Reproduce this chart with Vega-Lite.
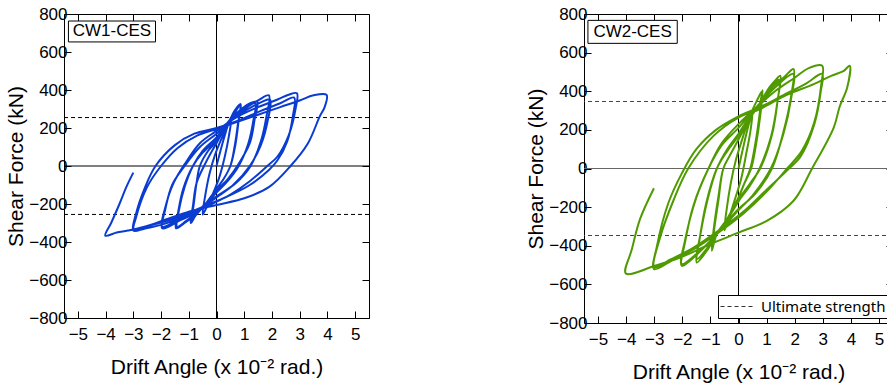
{
  "$schema": "https://vega.github.io/schema/vega-lite/v6.json",
  "padding": {"left": 5, "top": 4, "right": 0, "bottom": 0},
  "spacing": 155,
  "config": {
    "view": {"stroke": "#000", "strokeWidth": 1},
    "line": {"interpolate": "catmull-rom"},
    "axis": {
      "domain": false, "grid": false, "tickColor": "#000", "tickSize": -7, "tickWidth": 1,
      "labelColor": "#000", "titleColor": "#000", "labelFont": "Liberation Sans", "labelFontSize": 17,
      "titleFont": "Liberation Sans", "titleFontSize": 21, "titleFontWeight": "normal",
      "labelFlush": false, "labelOverlap": false
    }
  },
  "datasets": {
    "cw1": [
      {"i":1,"d":0,"f":0},{"i":2,"d":0.2,"f":110},{"i":3,"d":0.4,"f":210},{"i":4,"d":0.55,"f":265},
      {"i":5,"d":0.45,"f":160},{"i":6,"d":0.3,"f":50},{"i":7,"d":0.1,"f":-60},{"i":8,"d":-0.2,"f":-170},{"i":9,"d":-0.4,"f":-230},{"i":10,"d":-0.5,"f":-255},
      {"i":11,"d":-0.4,"f":-150},{"i":12,"d":-0.25,"f":-40},{"i":13,"d":-0.05,"f":60},{"i":14,"d":0.2,"f":150},{"i":15,"d":0.45,"f":230},{"i":16,"d":0.65,"f":290},{"i":17,"d":0.87,"f":326},
      {"i":18,"d":0.8,"f":240},{"i":19,"d":0.68,"f":110},{"i":20,"d":0.5,"f":0},{"i":21,"d":0.25,"f":-70},{"i":22,"d":0,"f":-120},{"i":23,"d":-0.4,"f":-200},{"i":24,"d":-0.75,"f":-260},{"i":25,"d":-0.93,"f":-300},
      {"i":26,"d":-0.85,"f":-210},{"i":27,"d":-0.72,"f":-90},{"i":28,"d":-0.45,"f":0},{"i":29,"d":-0.2,"f":70},{"i":30,"d":0,"f":120},{"i":31,"d":0.3,"f":200},{"i":32,"d":0.6,"f":265},{"i":33,"d":0.85,"f":320},
      {"i":34,"d":0.78,"f":230},{"i":35,"d":0.65,"f":100},{"i":36,"d":0.5,"f":0},{"i":37,"d":0.25,"f":-70},{"i":38,"d":0,"f":-120},{"i":39,"d":-0.4,"f":-200},{"i":40,"d":-0.75,"f":-255},{"i":41,"d":-0.9,"f":-290},
      {"i":42,"d":-0.82,"f":-200},{"i":43,"d":-0.72,"f":-90},{"i":44,"d":-0.6,"f":0},{"i":45,"d":-0.3,"f":80},{"i":46,"d":0,"f":130},{"i":47,"d":0.3,"f":200},{"i":48,"d":0.6,"f":260},{"i":49,"d":0.9,"f":300},{"i":50,"d":1.2,"f":330},{"i":51,"d":1.47,"f":338},
      {"i":52,"d":1.38,"f":250},{"i":53,"d":1.2,"f":120},{"i":54,"d":0.75,"f":0},{"i":55,"d":0.4,"f":-70},{"i":56,"d":0,"f":-130},{"i":57,"d":-0.4,"f":-200},{"i":58,"d":-0.75,"f":-255},{"i":59,"d":-1.1,"f":-295},{"i":60,"d":-1.46,"f":-328},
      {"i":61,"d":-1.38,"f":-240},{"i":62,"d":-1.2,"f":-120},{"i":63,"d":-0.85,"f":0},{"i":64,"d":-0.5,"f":70},{"i":65,"d":0,"f":140},{"i":66,"d":0.3,"f":200},{"i":67,"d":0.6,"f":255},{"i":68,"d":1.0,"f":300},{"i":69,"d":1.4,"f":330},
      {"i":70,"d":1.33,"f":240},{"i":71,"d":1.15,"f":120},{"i":72,"d":0.8,"f":0},{"i":73,"d":0.4,"f":-80},{"i":74,"d":0,"f":-140},{"i":75,"d":-0.4,"f":-200},{"i":76,"d":-0.75,"f":-250},{"i":77,"d":-1.1,"f":-290},{"i":78,"d":-1.42,"f":-320},
      {"i":79,"d":-1.35,"f":-230},{"i":80,"d":-1.15,"f":-110},{"i":81,"d":-0.85,"f":0},{"i":82,"d":-0.5,"f":80},{"i":83,"d":0,"f":150},{"i":84,"d":0.3,"f":210},{"i":85,"d":0.6,"f":260},{"i":86,"d":1.1,"f":310},{"i":87,"d":1.5,"f":345},{"i":88,"d":1.89,"f":372},
      {"i":89,"d":1.8,"f":260},{"i":90,"d":1.6,"f":130},{"i":91,"d":1.23,"f":0},{"i":92,"d":0.7,"f":-90},{"i":93,"d":0,"f":-160},{"i":94,"d":-0.4,"f":-200},{"i":95,"d":-0.75,"f":-245},{"i":96,"d":-1.3,"f":-285},{"i":97,"d":-1.96,"f":-328},
      {"i":98,"d":-1.85,"f":-230},{"i":99,"d":-1.6,"f":-100},{"i":100,"d":-1.15,"f":0},{"i":101,"d":-0.6,"f":100},{"i":102,"d":0,"f":170},{"i":103,"d":0.6,"f":250},{"i":104,"d":1.2,"f":305},{"i":105,"d":1.6,"f":335},{"i":106,"d":1.93,"f":350},
      {"i":107,"d":1.85,"f":240},{"i":108,"d":1.6,"f":110},{"i":109,"d":1.2,"f":0},{"i":110,"d":0.6,"f":-100},{"i":111,"d":0,"f":-165},{"i":112,"d":-0.75,"f":-240},{"i":113,"d":-1.4,"f":-285},{"i":114,"d":-1.96,"f":-320},
      {"i":115,"d":-1.85,"f":-220},{"i":116,"d":-1.55,"f":-90},{"i":117,"d":-1.1,"f":20},{"i":118,"d":-0.6,"f":120},{"i":119,"d":0,"f":185},{"i":120,"d":0.7,"f":255},{"i":121,"d":1.5,"f":310},{"i":122,"d":2.2,"f":350},{"i":123,"d":2.6,"f":375},{"i":124,"d":2.9,"f":383},
      {"i":125,"d":2.85,"f":300},{"i":126,"d":2.6,"f":160},{"i":127,"d":2.2,"f":50},{"i":128,"d":1.83,"f":0},{"i":129,"d":1.2,"f":-80},{"i":130,"d":0.5,"f":-150},{"i":131,"d":-0.3,"f":-210},{"i":132,"d":-1.2,"f":-270},{"i":133,"d":-2.0,"f":-310},{"i":134,"d":-2.6,"f":-330},{"i":135,"d":-3.0,"f":-340},
      {"i":136,"d":-2.9,"f":-250},{"i":137,"d":-2.6,"f":-120},{"i":138,"d":-2.2,"f":0},{"i":139,"d":-1.5,"f":110},{"i":140,"d":-0.8,"f":170},{"i":141,"d":0,"f":200},{"i":142,"d":0.8,"f":240},{"i":143,"d":1.6,"f":290},{"i":144,"d":2.3,"f":330},{"i":145,"d":2.8,"f":360},
      {"i":146,"d":2.75,"f":260},{"i":147,"d":2.55,"f":130},{"i":148,"d":2.2,"f":30},{"i":149,"d":1.9,"f":-20},{"i":150,"d":1.2,"f":-100},{"i":151,"d":0.4,"f":-160},{"i":152,"d":-0.5,"f":-215},{"i":153,"d":-1.4,"f":-270},{"i":154,"d":-2.3,"f":-310},{"i":155,"d":-2.98,"f":-337},
      {"i":156,"d":-2.9,"f":-270},{"i":157,"d":-2.5,"f":-110},{"i":158,"d":-2.0,"f":0},{"i":159,"d":-1.4,"f":95},{"i":160,"d":-0.7,"f":160},{"i":161,"d":0,"f":195},{"i":162,"d":0.7,"f":230},{"i":163,"d":1.5,"f":270},{"i":164,"d":2.3,"f":310},{"i":165,"d":3.0,"f":345},{"i":166,"d":3.5,"f":372},{"i":167,"d":3.97,"f":374},
      {"i":168,"d":3.9,"f":310},{"i":169,"d":3.72,"f":260},{"i":170,"d":3.3,"f":120},{"i":171,"d":2.67,"f":0},{"i":172,"d":1.9,"f":-110},{"i":173,"d":1.0,"f":-170},{"i":174,"d":0,"f":-205},{"i":175,"d":-1.0,"f":-240},{"i":176,"d":-1.8,"f":-280},{"i":177,"d":-2.6,"f":-320},{"i":178,"d":-3.2,"f":-340},{"i":179,"d":-3.6,"f":-350},{"i":180,"d":-4.01,"f":-367},
      {"i":181,"d":-3.8,"f":-300},{"i":182,"d":-3.5,"f":-200},{"i":183,"d":-3.25,"f":-110},{"i":184,"d":-3.0,"f":-35}
    ],
    "cw2": [
      {"i":1,"d":0,"f":0},{"i":2,"d":0.2,"f":130},{"i":3,"d":0.35,"f":220},{"i":4,"d":0.5,"f":290},
      {"i":5,"d":0.42,"f":190},{"i":6,"d":0.28,"f":80},{"i":7,"d":0.1,"f":-50},{"i":8,"d":-0.15,"f":-170},{"i":9,"d":-0.35,"f":-260},{"i":10,"d":-0.5,"f":-320},
      {"i":11,"d":-0.42,"f":-210},{"i":12,"d":-0.28,"f":-80},{"i":13,"d":-0.1,"f":40},{"i":14,"d":0.15,"f":160},{"i":15,"d":0.4,"f":270},{"i":16,"d":0.65,"f":350},{"i":17,"d":0.84,"f":400},
      {"i":18,"d":0.76,"f":290},{"i":19,"d":0.6,"f":130},{"i":20,"d":0.42,"f":0},{"i":21,"d":0.2,"f":-80},{"i":22,"d":0,"f":-150},{"i":23,"d":-0.4,"f":-260},{"i":24,"d":-0.77,"f":-338},{"i":25,"d":-0.95,"f":-426},
      {"i":26,"d":-0.87,"f":-320},{"i":27,"d":-0.72,"f":-170},{"i":28,"d":-0.54,"f":0},{"i":29,"d":-0.3,"f":70},{"i":30,"d":0,"f":150},{"i":31,"d":0.4,"f":260},{"i":32,"d":0.75,"f":335},{"i":33,"d":0.86,"f":405},
      {"i":34,"d":0.78,"f":280},{"i":35,"d":0.62,"f":120},{"i":36,"d":0.45,"f":0},{"i":37,"d":0.2,"f":-80},{"i":38,"d":0,"f":-150},{"i":39,"d":-0.4,"f":-260},{"i":40,"d":-0.77,"f":-338},{"i":41,"d":-0.95,"f":-415},
      {"i":42,"d":-0.87,"f":-300},{"i":43,"d":-0.72,"f":-150},{"i":44,"d":-0.54,"f":0},{"i":45,"d":-0.3,"f":70},{"i":46,"d":0,"f":150},{"i":47,"d":0.4,"f":260},{"i":48,"d":0.75,"f":335},{"i":49,"d":1.1,"f":420},{"i":50,"d":1.3,"f":455},{"i":51,"d":1.49,"f":480},
      {"i":52,"d":1.4,"f":360},{"i":53,"d":1.2,"f":180},{"i":54,"d":0.77,"f":0},{"i":55,"d":0.4,"f":-80},{"i":56,"d":0,"f":-160},{"i":57,"d":-0.4,"f":-260},{"i":58,"d":-0.77,"f":-338},{"i":59,"d":-1.1,"f":-420},{"i":60,"d":-1.49,"f":-487},
      {"i":61,"d":-1.4,"f":-380},{"i":62,"d":-1.15,"f":-180},{"i":63,"d":-0.77,"f":0},{"i":64,"d":-0.4,"f":90},{"i":65,"d":0,"f":170},{"i":66,"d":0.4,"f":270},{"i":67,"d":0.75,"f":335},{"i":68,"d":1.1,"f":410},{"i":69,"d":1.45,"f":460},
      {"i":70,"d":1.38,"f":340},{"i":71,"d":1.15,"f":160},{"i":72,"d":0.75,"f":0},{"i":73,"d":0.4,"f":-90},{"i":74,"d":0,"f":-170},{"i":75,"d":-0.4,"f":-265},{"i":76,"d":-0.77,"f":-340},{"i":77,"d":-1.1,"f":-410},{"i":78,"d":-1.49,"f":-470},
      {"i":79,"d":-1.38,"f":-360},{"i":80,"d":-1.1,"f":-160},{"i":81,"d":-0.77,"f":0},{"i":82,"d":-0.4,"f":100},{"i":83,"d":0,"f":180},{"i":84,"d":0.4,"f":270},{"i":85,"d":0.75,"f":335},{"i":86,"d":1.2,"f":420},{"i":87,"d":1.6,"f":470},{"i":88,"d":1.96,"f":515},
      {"i":89,"d":1.88,"f":380},{"i":90,"d":1.6,"f":190},{"i":91,"d":1.19,"f":0},{"i":92,"d":0.6,"f":-130},{"i":93,"d":0,"f":-210},{"i":94,"d":-0.4,"f":-275},{"i":95,"d":-0.77,"f":-340},{"i":96,"d":-1.3,"f":-420},{"i":97,"d":-2.02,"f":-504},
      {"i":98,"d":-1.9,"f":-380},{"i":99,"d":-1.6,"f":-190},{"i":100,"d":-1.07,"f":0},{"i":101,"d":-0.6,"f":120},{"i":102,"d":0,"f":210},{"i":103,"d":0.4,"f":280},{"i":104,"d":0.75,"f":335},{"i":105,"d":1.3,"f":420},{"i":106,"d":1.95,"f":490},
      {"i":107,"d":1.87,"f":360},{"i":108,"d":1.6,"f":180},{"i":109,"d":1.15,"f":0},{"i":110,"d":0.5,"f":-140},{"i":111,"d":0,"f":-215},{"i":112,"d":-0.77,"f":-340},{"i":113,"d":-1.4,"f":-430},{"i":114,"d":-2.02,"f":-495},
      {"i":115,"d":-1.9,"f":-370},{"i":116,"d":-1.5,"f":-150},{"i":117,"d":-1.07,"f":0},{"i":118,"d":-0.6,"f":130},{"i":119,"d":0,"f":230},{"i":120,"d":0.75,"f":330},{"i":121,"d":1.3,"f":400},{"i":122,"d":2.0,"f":470},{"i":123,"d":2.5,"f":520},{"i":124,"d":2.98,"f":532},
      {"i":125,"d":2.95,"f":440},{"i":126,"d":2.7,"f":240},{"i":127,"d":2.25,"f":90},{"i":128,"d":1.73,"f":0},{"i":129,"d":1.0,"f":-120},{"i":130,"d":0.2,"f":-230},{"i":131,"d":-0.6,"f":-320},{"i":132,"d":-1.5,"f":-410},{"i":133,"d":-2.3,"f":-470},{"i":134,"d":-3.01,"f":-521},
      {"i":135,"d":-2.9,"f":-400},{"i":136,"d":-2.5,"f":-180},{"i":137,"d":-2.0,"f":-20},{"i":138,"d":-1.5,"f":100},{"i":139,"d":-0.8,"f":200},{"i":140,"d":0,"f":270},{"i":141,"d":0.8,"f":320},{"i":142,"d":1.6,"f":380},{"i":143,"d":2.4,"f":440},{"i":144,"d":2.98,"f":490},
      {"i":145,"d":2.93,"f":400},{"i":146,"d":2.7,"f":230},{"i":147,"d":2.2,"f":60},{"i":148,"d":1.8,"f":0},{"i":149,"d":1.0,"f":-110},{"i":150,"d":0.2,"f":-220},{"i":151,"d":-0.7,"f":-320},{"i":152,"d":-1.6,"f":-410},{"i":153,"d":-2.4,"f":-470},{"i":154,"d":-3.0,"f":-510},
      {"i":155,"d":-2.79,"f":-357},{"i":156,"d":-2.32,"f":-167},{"i":157,"d":-1.79,"f":0},{"i":158,"d":-0.89,"f":169},{"i":159,"d":0,"f":264},{"i":160,"d":0.77,"f":308},{"i":161,"d":1.7,"f":380},{"i":162,"d":2.68,"f":437},{"i":163,"d":3.3,"f":480},{"i":164,"d":3.75,"f":506},{"i":165,"d":3.96,"f":532},
      {"i":166,"d":3.87,"f":420},{"i":167,"d":3.6,"f":320},{"i":168,"d":3.39,"f":212},{"i":169,"d":2.62,"f":0},{"i":170,"d":1.96,"f":-167},{"i":171,"d":1.01,"f":-271},{"i":172,"d":0,"f":-332},{"i":173,"d":-1.01,"f":-392},{"i":174,"d":-2.08,"f":-461},{"i":175,"d":-3.0,"f":-505},{"i":176,"d":-4.01,"f":-544},
      {"i":177,"d":-3.8,"f":-420},{"i":178,"d":-3.5,"f":-260},{"i":179,"d":-3.01,"f":-102}
    ]
  },
  "hconcat": [
    {
      "width": 305, "height": 304,
      "layer": [
        {"data": {"values": [{"v": 0}]}, "mark": {"type": "rule", "color": "#000", "strokeWidth": 1},
         "encoding": {"y": {"field": "v", "type": "quantitative", "scale": {"domain": [-800, 800]}, "axis": null}}},
        {"data": {"values": [{"v": 0}]}, "mark": {"type": "rule", "color": "#000", "strokeWidth": 1},
         "encoding": {"x": {"field": "v", "type": "quantitative", "scale": {"domain": [-5.5, 5.5], "nice": false}, "axis": null}}},
        {"data": {"values": [{"v": 255}, {"v": -255}]}, "mark": {"type": "rule", "color": "#000", "strokeWidth": 1, "strokeDash": [4, 3]},
         "encoding": {"y": {"field": "v", "type": "quantitative", "axis": null}}},
        {"data": {"name": "cw1"}, "mark": {"type": "line", "color": "#0a3cd2", "strokeWidth": 2},
         "encoding": {
           "x": {"field": "d", "type": "quantitative", "scale": {"domain": [-5.5, 5.5], "nice": false, "zero": false},
                 "axis": {"orient": "bottom", "values": [-5,-4,-3,-2,-1,0,1,2,3,4,5], "labelPadding": 15, "title": "Drift Angle (x 10⁻² rad.)", "titlePadding": 14}},
           "y": {"field": "f", "type": "quantitative", "scale": {"domain": [-800, 800], "nice": false},
                 "axis": {"orient": "left", "values": [-800,-600,-400,-200,0,200,400,600,800], "labelPadding": 4, "title": "Shear Force (kN)", "titlePadding": 2}},
           "order": {"field": "i", "type": "quantitative"}
         }},
        {"data": {"values": [{"a": -5.34, "b": -2.2, "c": 763, "e": 653}]}, "mark": {"type": "rect", "fill": "#fff", "stroke": "#000", "strokeWidth": 1},
         "encoding": {"x": {"field": "a", "type": "quantitative", "axis": null}, "x2": {"field": "b"},
                      "y": {"field": "c", "type": "quantitative", "axis": null}, "y2": {"field": "e"}}},
        {"data": {"values": [{"x": -3.77, "y": 708, "t": "CW1-CES"}]}, "mark": {"type": "text", "font": "Liberation Sans", "fontSize": 17, "color": "#000"},
         "encoding": {"x": {"field": "x", "type": "quantitative", "axis": null}, "y": {"field": "y", "type": "quantitative", "axis": null}, "text": {"field": "t"}}},
        {"data": {"values": [{"x": 0, "y": 0}]}, "mark": {"type": "point", "opacity": 0},
         "encoding": {"x": {"field": "x", "type": "quantitative", "axis": {"orient": "top", "values": [-5,-4,-3,-2,-1,0,1,2,3,4,5], "labels": false, "title": null}},
                      "y": {"field": "y", "type": "quantitative", "axis": {"orient": "right", "values": [-800,-600,-400,-200,0,200,400,600,800], "labels": false, "title": null}}}}
      ],
      "resolve": {"axis": {"x": "independent", "y": "independent"}}
    },
    {
      "width": 309, "height": 309,
      "layer": [
        {"data": {"values": [{"v": 0}]}, "mark": {"type": "rule", "color": "#666", "strokeWidth": 1},
         "encoding": {"y": {"field": "v", "type": "quantitative", "scale": {"domain": [-800, 800]}, "axis": null}}},
        {"data": {"values": [{"v": 0}]}, "mark": {"type": "rule", "color": "#000", "strokeWidth": 1},
         "encoding": {"x": {"field": "v", "type": "quantitative", "scale": {"domain": [-5.5, 5.5], "nice": false}, "axis": null}}},
        {"data": {"values": [{"v": 347, "k": "Ultimate strength"}, {"v": -347, "k": "Ultimate strength"}]}, "mark": {"type": "rule", "color": "#444", "strokeWidth": 1},
         "encoding": {"y": {"field": "v", "type": "quantitative", "axis": null},
                      "strokeDash": {"field": "k", "type": "nominal", "scale": {"domain": ["Ultimate strength"], "range": [[4, 3]]},
                        "legend": {"orient": "bottom-right", "offset": 5, "title": null, "strokeColor": "#000", "fillColor": "#fff", "padding": 2, "cornerRadius": 0,
                                   "labelFont": "Noto Sans", "labelFontSize": 15, "labelColor": "#000", "labelOffset": 8, "symbolType": "stroke", "symbolSize": 1024,
                                   "clipHeight": 19, "symbolStrokeWidth": 1, "symbolStrokeColor": "#333"}}}},
        {"data": {"name": "cw2"}, "mark": {"type": "line", "color": "#4f9a00", "strokeWidth": 2},
         "encoding": {
           "x": {"field": "d", "type": "quantitative", "scale": {"domain": [-5.5, 5.5], "nice": false, "zero": false},
                 "axis": {"orient": "bottom", "values": [-5,-4,-3,-2,-1,0,1,2,3,4,5], "labelPadding": 15, "title": "Drift Angle (x 10⁻² rad.)", "titlePadding": 14}},
           "y": {"field": "f", "type": "quantitative", "scale": {"domain": [-800, 800], "nice": false},
                 "axis": {"orient": "left", "values": [-800,-600,-400,-200,0,200,400,600,800], "labelPadding": 4, "title": "Shear Force (kN)", "titlePadding": 2}},
           "order": {"field": "i", "type": "quantitative"}
         }},
        {"data": {"values": [{"a": -5.36, "b": -2.18, "c": 767, "e": 648}]}, "mark": {"type": "rect", "fill": "#fff", "stroke": "#000", "strokeWidth": 1},
         "encoding": {"x": {"field": "a", "type": "quantitative", "axis": null}, "x2": {"field": "b"},
                      "y": {"field": "c", "type": "quantitative", "axis": null}, "y2": {"field": "e"}}},
        {"data": {"values": [{"x": -3.77, "y": 707, "t": "CW2-CES"}]}, "mark": {"type": "text", "font": "Liberation Sans", "fontSize": 17, "color": "#000"},
         "encoding": {"x": {"field": "x", "type": "quantitative", "axis": null}, "y": {"field": "y", "type": "quantitative", "axis": null}, "text": {"field": "t"}}},
        {"data": {"values": [{"x": 0, "y": 0}]}, "mark": {"type": "point", "opacity": 0},
         "encoding": {"x": {"field": "x", "type": "quantitative", "axis": {"orient": "top", "values": [-5,-4,-3,-2,-1,0,1,2,3,4,5], "labels": false, "title": null}},
                      "y": {"field": "y", "type": "quantitative", "axis": {"orient": "right", "values": [-800,-600,-400,-200,0,200,400,600,800], "labels": false, "title": null}}}}
      ],
      "resolve": {"axis": {"x": "independent", "y": "independent"}}
    }
  ],
  "resolve": {"legend": {"strokeDash": "independent"}}
}
